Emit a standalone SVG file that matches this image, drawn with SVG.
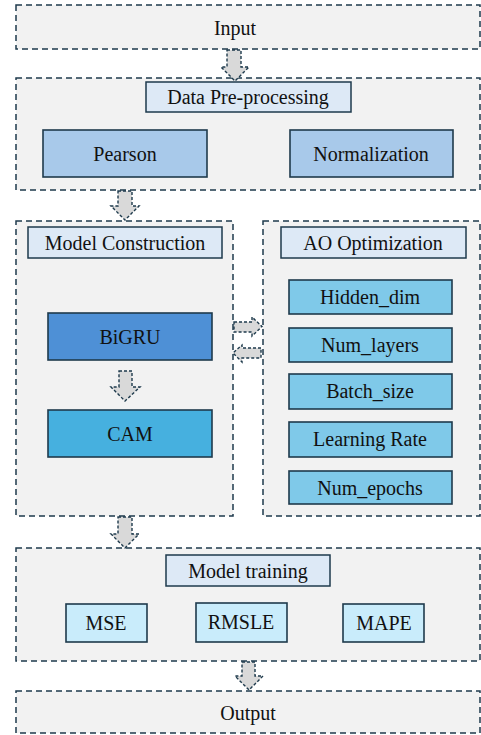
<svg xmlns="http://www.w3.org/2000/svg" width="481" height="735" viewBox="0 0 481 735">
<style>
.cont{fill:#f2f2f2;stroke:#1e3a4c;stroke-width:1.5;stroke-dasharray:6 4}
.title{fill:#dde9f6;stroke:#1e3a4c;stroke-width:1.5}
.arr{fill:#d9d9d9;stroke:#1e3a4c;stroke-width:1.4;stroke-dasharray:3 2;stroke-linejoin:miter}
.box{stroke:#1e3a4c;stroke-width:1.6}
.t{fill:#111;text-anchor:middle}
</style>
<g id="input"><rect class="cont" x="16" y="5" width="464" height="44"/><text class="t" font-family="Liberation Serif" font-size="20" x="235" y="35">Input</text></g>
<g id="preprocessing">
<rect class="cont" x="16" y="78" width="464" height="112"/>
<rect class="title" x="146" y="82" width="205" height="30"/><text class="t" font-family="Liberation Serif" font-size="20" x="248" y="104">Data Pre-processing</text>
<rect class="box" fill="#a8c9ea" x="43" y="130" width="164" height="47"/><text class="t" font-family="Liberation Serif" font-size="20" x="125" y="161">Pearson</text>
<rect class="box" fill="#a8c9ea" x="290" y="130" width="163" height="47"/><text class="t" font-family="Liberation Serif" font-size="20" x="371" y="161">Normalization</text>
</g>
<g id="model-construction">
<rect class="cont" x="16" y="221" width="217" height="295"/>
<rect class="title" x="28" y="227" width="194" height="31"/><text class="t" font-family="Liberation Serif" font-size="20" x="125" y="250">Model Construction</text>
<rect class="box" fill="#4e90d6" x="48" y="313" width="164" height="47"/><text class="t" font-family="Liberation Serif" font-size="20" x="130" y="344">BiGRU</text>
<rect class="box" fill="#46b0df" x="48" y="410" width="164" height="47"/><text class="t" font-family="Liberation Serif" font-size="20" x="130" y="441">CAM</text>
</g>
<g id="ao-optimization">
<rect class="cont" x="263" y="221" width="217" height="295"/>
<rect class="title" x="281" y="227" width="185" height="31"/><text class="t" font-family="Liberation Serif" font-size="20" x="373" y="250">AO Optimization</text>
<rect class="box" fill="#7fc9e9" x="289" y="280" width="163" height="34"/><text class="t" font-family="Liberation Serif" font-size="20" x="370" y="304">Hidden_dim</text>
<rect class="box" fill="#7fc9e9" x="289" y="328" width="163" height="34"/><text class="t" font-family="Liberation Serif" font-size="20" x="370" y="352">Num_layers</text>
<rect class="box" fill="#7fc9e9" x="289" y="374" width="163" height="35"/><text class="t" font-family="Liberation Serif" font-size="20" x="370" y="398">Batch_size</text>
<rect class="box" fill="#7fc9e9" x="289" y="422" width="163" height="35"/><text class="t" font-family="Liberation Serif" font-size="20" x="370" y="446">Learning Rate</text>
<rect class="box" fill="#7fc9e9" x="289" y="471" width="163" height="33"/><text class="t" font-family="Liberation Serif" font-size="20" x="370" y="495">Num_epochs</text>
</g>
<g id="model-training">
<rect class="cont" x="16" y="548" width="464" height="113"/>
<rect class="title" x="166" y="555" width="164" height="31"/><text class="t" font-family="Liberation Serif" font-size="20" x="248" y="578">Model training</text>
<rect class="box" fill="#c9ecfb" x="66" y="604" width="81" height="38"/><text class="t" font-family="Liberation Serif" font-size="20" x="106" y="630">MSE</text>
<rect class="box" fill="#c9ecfb" x="196" y="603" width="91" height="39"/><text class="t" font-family="Liberation Serif" font-size="20" x="241" y="629">RMSLE</text>
<rect class="box" fill="#c9ecfb" x="343" y="604" width="81" height="38"/><text class="t" font-family="Liberation Serif" font-size="20" x="384" y="630">MAPE</text>
</g>
<g id="output"><rect class="cont" x="16" y="691" width="464" height="42"/><text class="t" font-family="Liberation Serif" font-size="20" x="248" y="720">Output</text></g>
<g id="connectors">
<path class="arr" d="M227 50 H241 V67 H249 L235 81 L221 67 H227 Z"/>
<path class="arr" d="M118 191 H132 V206 H139 L125 220 L111 206 H118 Z"/>
<path class="arr" d="M119 371 H132 V387 H140 L125 401 L111 387 H119 Z"/>
<path class="arr" d="M234 322 H252 V317 L262 326.5 L252 336 V332 H234 Z"/>
<path class="arr" d="M261 348 H242 V345 L233 353 L242 362 V358 H261 Z"/>
<path class="arr" d="M118 517 H132 V534 H139 L125 548 L111 534 H118 Z"/>
<path class="arr" d="M242 662 H255 V676 H263 L249 690 L235 676 H242 Z"/>
</g>
</svg>
